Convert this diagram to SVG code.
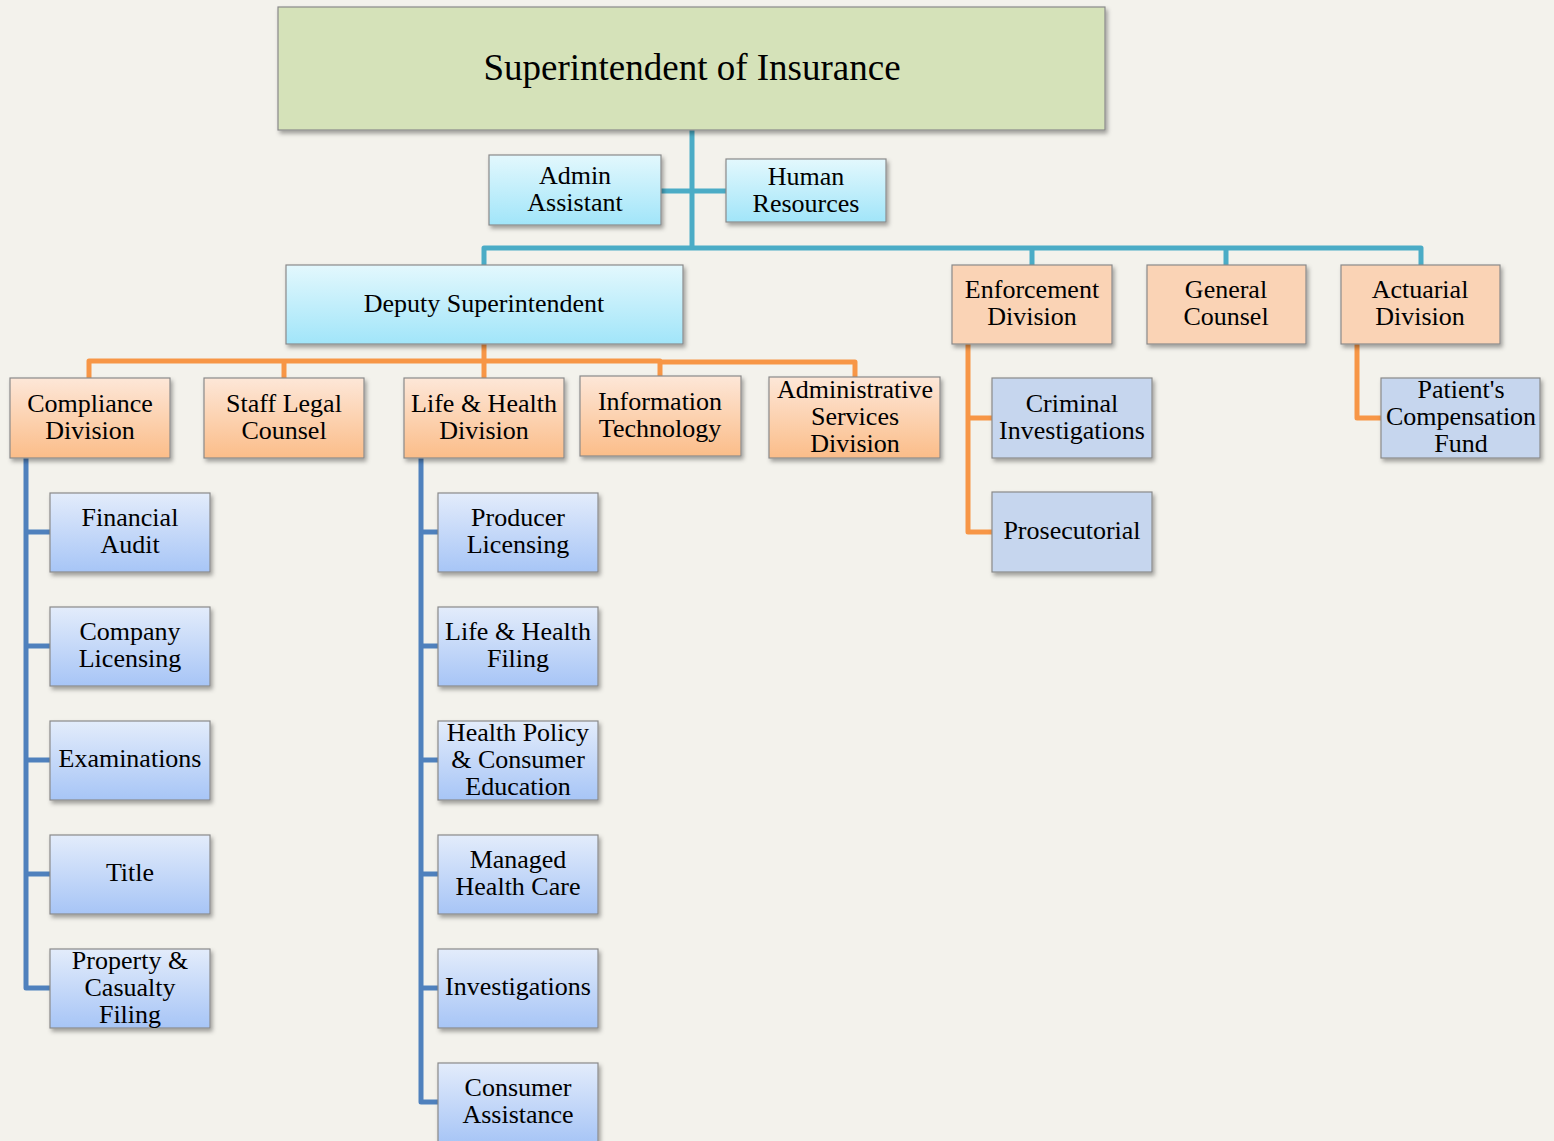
<svg xmlns="http://www.w3.org/2000/svg" width="1554" height="1141" viewBox="0 0 1554 1141">
<defs>
<linearGradient id="gCyan" x1="0" y1="0" x2="0" y2="1"><stop offset="0" stop-color="#e3f8fd"/><stop offset="1" stop-color="#a1e5f9"/></linearGradient>
<linearGradient id="gOrange" x1="0" y1="0" x2="0" y2="1"><stop offset="0" stop-color="#fde7d8"/><stop offset="1" stop-color="#fbbd89"/></linearGradient>
<linearGradient id="gBlue" x1="0" y1="0" x2="0" y2="1"><stop offset="0" stop-color="#e3ecfb"/><stop offset="1" stop-color="#a7c5f6"/></linearGradient>
<filter id="sh" x="-10%" y="-10%" width="130%" height="140%"><feDropShadow dx="2" dy="3" stdDeviation="2" flood-color="#000" flood-opacity="0.35"/></filter>
</defs>
<style>
.box{stroke:#8a8a8a;stroke-width:1.2;filter:url(#sh)}
.green{fill:#d5e2b9}
.cyan{fill:url(#gCyan)}
.orange{fill:url(#gOrange)}
.flatO{fill:#fad3b5}
.blue{fill:url(#gBlue)}
.flatB{fill:#c6d6ee}
text{font-family:"Liberation Serif","Times New Roman",serif;font-size:26px;fill:#000;text-anchor:middle}
.title{font-size:37px}
.c{fill:none;stroke-width:5;stroke-linejoin:round}
.teal{stroke:#4bacc6}
.or{stroke:#f79646}
.bl{stroke:#4f81bd}
</style>
<rect width="1554" height="1141" fill="#f3f2ec"/>
<g id="connectors">
<path class="c teal" d="M692 130V248M661 191H726M484 265V248H1421V265M1032 248V265M1226 248V265"/>
<path class="c or" d="M484 344V361M89 378V361H660V376M284 361V378M484 361V378M660 362H855V377"/>
<path class="c or" d="M968 344V532H992M968 418H992M1357 344V418H1381"/>
<path class="c bl" d="M26 458V988H50M26 532H50M26 646H50M26 760H50M26 874H50"/>
<path class="c bl" d="M421 458V1102H438M421 532H438M421 646H438M421 760H438M421 874H438M421 988H438"/>
</g>
<g id="superintendent"><rect class="box green" x="278" y="7" width="827" height="123"/><text class="title" x="692" y="80">Superintendent of Insurance</text></g>
<g id="admin-assistant"><rect class="box cyan" x="489" y="155" width="172" height="70"/><text x="575" y="184">Admin</text><text x="575" y="211">Assistant</text></g>
<g id="human-resources"><rect class="box cyan" x="726" y="159" width="160" height="63"/><text x="806" y="185">Human</text><text x="806" y="212">Resources</text></g>
<g id="deputy"><rect class="box cyan" x="286" y="265" width="397" height="79"/><text x="484" y="312">Deputy Superintendent</text></g>
<g id="enforcement"><rect class="box flatO" x="952" y="265" width="160" height="79"/><text x="1032" y="298">Enforcement</text><text x="1032" y="325">Division</text></g>
<g id="general-counsel"><rect class="box flatO" x="1147" y="265" width="159" height="79"/><text x="1226" y="298">General</text><text x="1226" y="325">Counsel</text></g>
<g id="actuarial"><rect class="box flatO" x="1341" y="265" width="159" height="79"/><text x="1420" y="298">Actuarial</text><text x="1420" y="325">Division</text></g>
<g id="compliance"><rect class="box orange" x="10" y="378" width="160" height="80"/><text x="90" y="412">Compliance</text><text x="90" y="439">Division</text></g>
<g id="staff-legal"><rect class="box orange" x="204" y="378" width="160" height="80"/><text x="284" y="412">Staff Legal</text><text x="284" y="439">Counsel</text></g>
<g id="life-health"><rect class="box orange" x="404" y="378" width="160" height="80"/><text x="484" y="412">Life &amp; Health</text><text x="484" y="439">Division</text></g>
<g id="it"><rect class="box orange" x="580" y="376" width="161" height="80"/><text x="660" y="410">Information</text><text x="660" y="437">Technology</text></g>
<g id="admin-services"><rect class="box orange" x="769" y="377" width="171" height="81"/><text x="855" y="398">Administrative</text><text x="855" y="425">Services</text><text x="855" y="452">Division</text></g>
<g id="criminal"><rect class="box flatB" x="992" y="378" width="160" height="80"/><text x="1072" y="412">Criminal</text><text x="1072" y="439">Investigations</text></g>
<g id="prosecutorial"><rect class="box flatB" x="992" y="492" width="160" height="80"/><text x="1072" y="539">Prosecutorial</text></g>
<g id="patients-fund"><rect class="box flatB" x="1381" y="378" width="159" height="80"/><text x="1461" y="398">Patient's</text><text x="1461" y="425">Compensation</text><text x="1461" y="452">Fund</text></g>
<g id="financial-audit"><rect class="box blue" x="50" y="493" width="160" height="79"/><text x="130" y="526">Financial</text><text x="130" y="553">Audit</text></g>
<g id="company-licensing"><rect class="box blue" x="50" y="607" width="160" height="79"/><text x="130" y="640">Company</text><text x="130" y="667">Licensing</text></g>
<g id="examinations"><rect class="box blue" x="50" y="721" width="160" height="79"/><text x="130" y="767">Examinations</text></g>
<g id="title"><rect class="box blue" x="50" y="835" width="160" height="79"/><text x="130" y="881">Title</text></g>
<g id="pc-filing"><rect class="box blue" x="50" y="949" width="160" height="79"/><text x="130" y="969">Property &amp;</text><text x="130" y="996">Casualty</text><text x="130" y="1023">Filing</text></g>
<g id="producer-licensing"><rect class="box blue" x="438" y="493" width="160" height="79"/><text x="518" y="526">Producer</text><text x="518" y="553">Licensing</text></g>
<g id="lh-filing"><rect class="box blue" x="438" y="607" width="160" height="79"/><text x="518" y="640">Life &amp; Health</text><text x="518" y="667">Filing</text></g>
<g id="health-policy"><rect class="box blue" x="438" y="721" width="160" height="79"/><text x="518" y="741">Health Policy</text><text x="518" y="768">&amp; Consumer</text><text x="518" y="795">Education</text></g>
<g id="managed-care"><rect class="box blue" x="438" y="835" width="160" height="79"/><text x="518" y="868">Managed</text><text x="518" y="895">Health Care</text></g>
<g id="investigations"><rect class="box blue" x="438" y="949" width="160" height="79"/><text x="518" y="995">Investigations</text></g>
<g id="consumer-assistance"><rect class="box blue" x="438" y="1063" width="160" height="80"/><text x="518" y="1096">Consumer</text><text x="518" y="1123">Assistance</text></g>
</svg>
